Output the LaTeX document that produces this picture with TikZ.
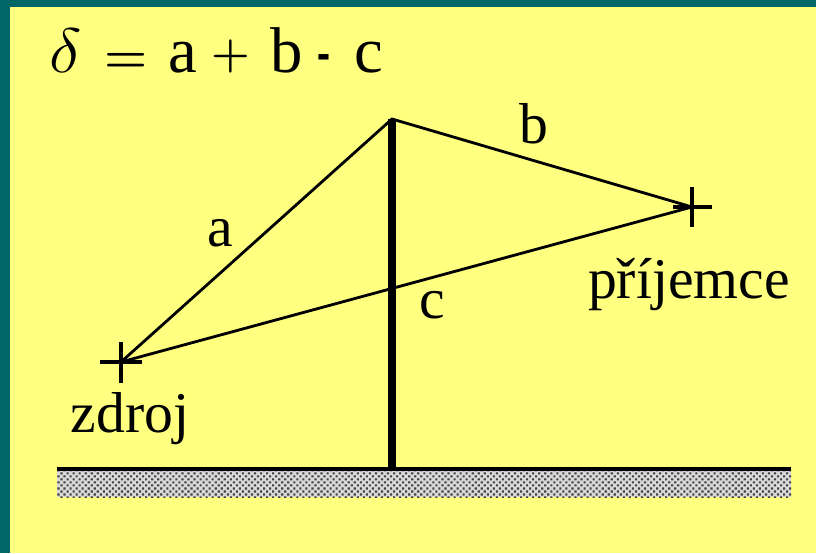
\documentclass[tikz,border=0pt]{standalone}
\usepackage{fontspec}
\setmainfont{Liberation Serif}
\usetikzlibrary{patterns,positioning}
\definecolor{tyrkys}{RGB}{0,102,102}
\definecolor{zluta}{RGB}{255,255,128}

% hrubsi sitka pro zemi
\pgfdeclarepatternformonly{sitka}{\pgfqpoint{-1pt}{-1pt}}{\pgfqpoint{5pt}{5pt}}{\pgfqpoint{4.3pt}{4.3pt}}{
  \pgfpathrectangle{\pgfqpoint{0pt}{0pt}}{\pgfqpoint{1.5pt}{1.5pt}}
  \pgfpathrectangle{\pgfqpoint{2.15pt}{2.15pt}}{\pgfqpoint{1.5pt}{1.5pt}}
  \pgfusepath{fill}
}

\begin{document}
\begin{tikzpicture}[
    x=0.025cm, y=-0.025cm,
    popis/.style={font=\fontsize{41}{48}\selectfont, inner sep=0pt, anchor=base},
    paprsek/.style={line width=2pt},
    kriz/.style={line width=2.4pt},
    stozar/.style={line width=5.6pt},
    zeme/.style={pattern=sitka, pattern color=black!75}
]
  \useasboundingbox (0,0) rectangle (816,553);
  % pozadi a ramecek
  \fill[tyrkys] (0,0) rectangle (816,553);
  \fill[zluta] (10,7) rectangle (816,553);

  % body
  \coordinate (vrchol) at (392,119);
  \coordinate (pata) at (392,469);
  \coordinate (zdroj) at (121,362);
  \coordinate (prijemce) at (692,207);

  % zeme
  \fill[white!85!black] (57,470) rectangle (791,497);
  \fill[zeme] (57,470) rectangle (791,497);
  \draw[line width=2.4pt] (57,469) -- (791,469);

  % paprsky
  \draw[paprsek] (zdroj) -- (vrchol) -- (prijemce);
  \draw[paprsek] (zdroj) -- (prijemce);
  \draw[stozar] (vrchol) -- (pata);

  % krizky
  \draw[kriz] (zdroj) +(-21,0) -- +(21,0) (zdroj) +(0,-20) -- +(0,21);
  \draw[kriz] (prijemce) +(-19,0) -- +(20,0) (prijemce) +(0,-20) -- +(0,20);

  % popisky
  \node[popis] (va) at (220,246) {a};
  \node[popis] (vb) at (534,143) {b};
  \node[popis] (vc) at (432,318) {c};
  \node[popis] (tzdroj) at (130,432) {zdroj};
  \node[popis] (tprij) at (689,298) {příjemce};
  \node[popis, font=\fontsize{46}{52}\selectfont, anchor=base west] (vzorec) at (49,72)
    {\resizebox*{23pt}{31pt}{$\delta$}\hspace{16pt}\resizebox{30.7pt}{!}{\boldmath$=$}\hspace{15.2pt}a%
     \hspace{9.7pt}\raisebox{3pt}{\resizebox{27.5pt}{!}{\boldmath$+$}}\hspace{14.5pt}b\hspace{10.8pt}\scalebox{0.6}[1]{\textbf{-}}\hspace{17.3pt}c};
\end{tikzpicture}
\end{document}
